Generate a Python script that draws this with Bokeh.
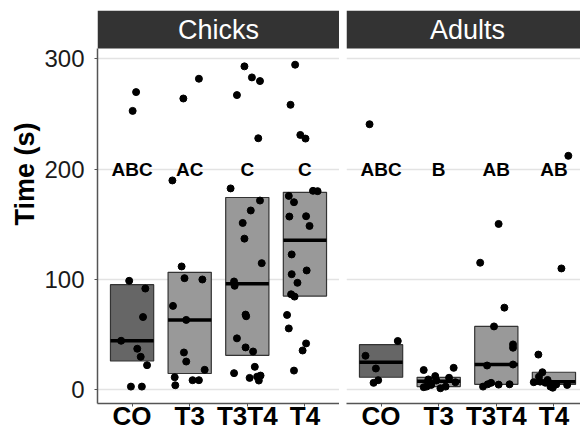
import numpy as np
from bokeh.plotting import figure
from bokeh.layouts import row
from bokeh.models import FixedTicker, Range1d, Title
from bokeh.core.properties import value
from bokeh.embed import file_html
from bokeh.resources import INLINE

categories = ["CO", "T3", "T3T4", "T4"]
panel_names = ["Chicks", "Adults"]
letters_chicks = ["ABC", "AC", "C", "C"]
letters_adults = ["ABC", "B", "AB", "AB"]
letter_y = 200
y_ticks = [0, 100, 200, 300]
y_title = "Time (s)"

# Chicks: values (s) and horizontal jitter (category units)
chicks_CO = [269.7, 252.7, 98.8, 91.8, 66, 44.5, 37.3, 30, 22.4, 3, 3]
chicks_CO_jit = [0.07, 0.01, -0.05, 0.23, 0.19, -0.19, 0.09, 0.15, 0.26, -0.02, 0.17]
chicks_T3 = [281.8, 263.9, 189.7, 111.8, 101.2, 100, 76.1, 63.4, 33.9, 25.7, 18.2, 11.5, 4.2, 8.8, 8.8]
chicks_T3_jit = [0.16, -0.11, -0.30, -0.14, -0.09, 0.22, -0.29, -0.06, -0.10, -0.06, 0.26, -0.26, -0.25, 0.05, 0.16]
chicks_T3T4 = [293, 283, 279.7, 267, 227.9, 182.5, 171.5, 162.5, 151.2, 137, 114.8, 98.2, 94.3,
               68.2, 66.7, 46.7, 38.5, 34.8, 20.9, 15.2, 10.9, 12, 13, 8.5]
chicks_T3T4_jit = [-0.05, 0.08, 0.22, -0.18, 0.19, -0.29, 0.22, 0.06, -0.08, -0.05, 0.25, -0.23, -0.22,
                   -0.03, -0.02, -0.18, -0.03, 0.10, 0.13, -0.23, 0.04, 0.17, 0.23, 0.20]
chicks_T4 = [294.5, 258.2, 230.9, 227.6, 180.3, 180, 175.7, 170, 157, 157.3, 148.5, 122.7, 108.2,
             104.8, 97, 86.6, 84.5, 67.9, 55.7, 42.1, 35.7, 17.5]
chicks_T4_jit = [-0.17, -0.25, -0.08, 0.01, 0.14, 0.22, -0.28, -0.19, -0.27, 0.02, 0.08, -0.23, 0.03,
                 -0.23, -0.13, -0.24, -0.18, -0.31, -0.28, 0.02, -0.04, -0.19]

# Adults
adults_CO = [240.6, 44.3, 30.9, 19.4, 6.4, 8.8]
adults_CO_jit = [-0.20, 0.29, -0.27, -0.09, -0.13, -0.05]
adults_T3 = [1.5, 2.5, 3, 3, 4.5, 7, 8.5, 9.5, 11, 12.5, 18, 20]
adults_T3_jit = [0.03, -0.26, -0.21, 0.12, -0.13, 0.29, -0.04, -0.18, 0.18, -0.06, -0.26, 0.26]
adults_T3T4 = [150.3, 115.2, 74.5, 57.5, 41.2, 38.2, 22.1, 23, 3, 5.1, 6.4, 4.8, 5.1]
adults_T3T4_jit = [0.04, -0.28, 0.14, -0.04, 0.29, 0.29, -0.16, 0.29, -0.23, -0.15, -0.09, 0.04, 0.23]
adults_T4 = [212, 110, 32, 16, 12, 9, 7.5, 7, 6.5, 5, 4.5, 3, 2]
adults_T4_jit = [0.25, 0.13, -0.27, -0.20, -0.26, -0.11, -0.24, -0.35, -0.15, 0.04, 0.23, -0.06, -0.02]

box_colors = ["#666666", "#999999", "#999999", "#999999"]

FONT = "Liberation Sans"
Y_LO, Y_TOP_DATA, STRIP_UNITS = -12.3, 309.1, 34.5
PX_PER_UNIT = 242 / 4.2


def make_panel(name, groups, jitters, letters, width, border_left, x_end, show_y):
    p = figure(width=width, height=434, output_backend="svg", toolbar_location=None,
               x_range=Range1d(0.4, x_end), y_range=Range1d(Y_LO, Y_TOP_DATA + STRIP_UNITS),
               y_axis_location="left" if show_y else None,
               min_border_left=border_left, min_border_right=0, min_border_top=10,
               min_border_bottom=31)
    p.outline_line_color = None
    p.background_fill_color = "white"
    p.border_fill_color = "white"
    p.xgrid.visible = False
    for g in p.ygrid:
        g.ticker = FixedTicker(ticks=y_ticks)
        g.grid_line_color = "#e3e3e3"
        g.grid_line_width = 1.5

    xs = np.arange(1, len(categories) + 1)
    for i, vals in enumerate(groups):
        q1, med, q3 = np.percentile(vals, [25, 50, 75])
        x = xs[i]
        p.quad(left=[x - 0.375], right=[x + 0.375], bottom=[q1], top=[q3],
               fill_color=box_colors[i], line_color="#333333", line_width=1.2)
        p.segment(x0=[x - 0.375], x1=[x + 0.375], y0=[med], y1=[med],
                  line_color="black", line_width=3.5)
    for i, (vals, jit) in enumerate(zip(groups, jitters)):
        px = xs[i] + np.array(jit)
        p.scatter(px, vals, size=7, color="black")

    p.text(x=xs, y=[letter_y] * len(xs), text=letters, text_align="center",
           text_baseline="middle", text_font=value(FONT), text_font_style="bold",
           text_font_size="19px", text_color="black")

    # facet strip
    p.quad(left=[0.4], right=[x_end], bottom=[Y_TOP_DATA], top=[Y_TOP_DATA + STRIP_UNITS],
           fill_color="#333333", line_color=None)
    p.text(x=[(0.4 + 4.6) / 2], y=[Y_TOP_DATA + STRIP_UNITS / 2], text=[name],
           text_align="center", text_baseline="middle", text_font=value(FONT),
           text_font_size="27px", text_color="white")

    ax = p.xaxis[0]
    ax.ticker = FixedTicker(ticks=list(xs))
    ax.major_label_overrides = {int(x): c for x, c in zip(xs, categories)}
    ax.major_label_text_font = FONT
    ax.major_label_text_font_style = "bold"
    ax.major_label_text_font_size = "26px"
    ax.major_label_text_color = "black"
    ax.major_label_standoff = -6
    ax.major_tick_out = 3
    ax.major_tick_in = 0
    ax.minor_tick_line_color = None
    ax.axis_line_color = "#555555"
    ax.major_tick_line_color = "#555555"
    ax.axis_line_width = 1.5

    if show_y:
        ay = p.yaxis[0]
        ay.ticker = FixedTicker(ticks=y_ticks)
        ay.bounds = (Y_LO, Y_TOP_DATA)
        ay.major_label_text_font = FONT
        ay.major_label_text_font_size = "24px"
        ay.major_label_text_color = "#1a1a1a"
        ay.major_label_standoff = 10
        ay.major_tick_out = 3
        ay.major_tick_in = 0
        ay.minor_tick_line_color = None
        ay.axis_line_color = "#555555"
        ay.major_tick_line_color = "#555555"
        ay.axis_line_width = 1.5
        t = Title(text=y_title, align="right", offset=112, standoff=4,
                  text_font=FONT, text_font_style="bold", text_font_size="27px",
                  text_color="black")
        p.add_layout(t, "left")
    return p


p1 = make_panel(panel_names[0], [chicks_CO, chicks_T3, chicks_T3T4, chicks_T4],
                [chicks_CO_jit, chicks_T3_jit, chicks_T3T4_jit, chicks_T4_jit],
                letters_chicks, 339, 97, 4.6, True)
p2 = make_panel(panel_names[1], [adults_CO, adults_T3, adults_T3T4, adults_T4],
                [adults_CO_jit, adults_T3_jit, adults_T3T4_jit, adults_T4_jit],
                letters_adults, 241, 7, 0.4 + 234 / PX_PER_UNIT, False)

layout = row(p1, p2)
open("out.html", "w").write(file_html(layout, INLINE))
